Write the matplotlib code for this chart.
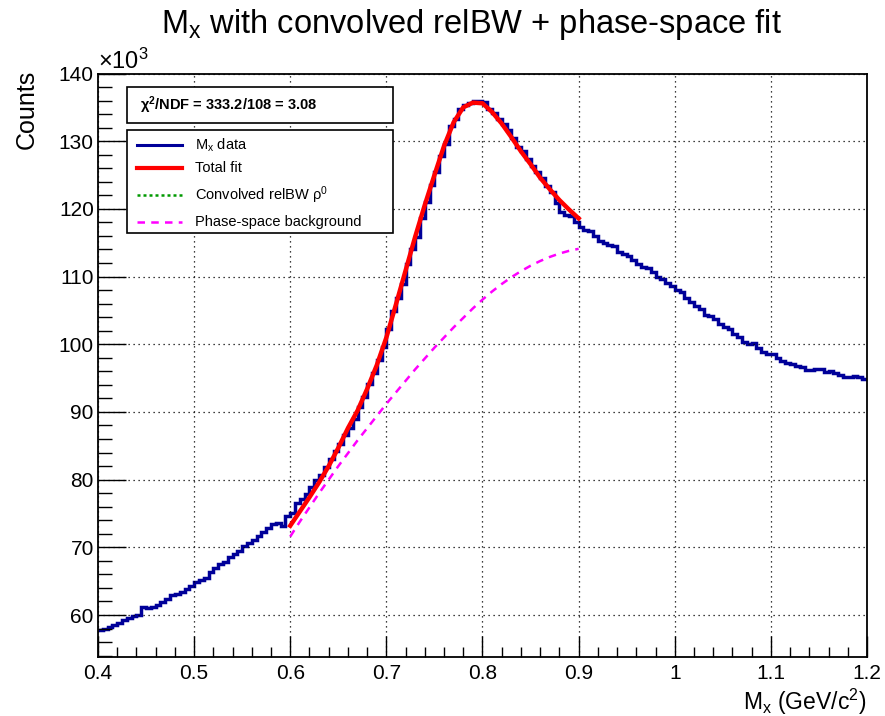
import numpy as np
import matplotlib
matplotlib.use("Agg")
import matplotlib.pyplot as plt
from matplotlib.patches import Rectangle
from matplotlib.lines import Line2D
from matplotlib.ticker import MultipleLocator

plt.rcParams['font.family'] = ['Liberation Sans', 'DejaVu Sans']
plt.rcParams['mathtext.fontset'] = 'custom'
plt.rcParams['mathtext.rm'] = 'Liberation Sans'
plt.rcParams['mathtext.it'] = 'Liberation Sans:italic'
plt.rcParams['mathtext.bf'] = 'Liberation Sans:bold'

# histogram: 160 bins of 0.005 GeV from 0.4 to 1.2, counts in thousands
bin_lo, bin_hi, nbins = 0.4, 1.2, 160
counts = [
    57.8, 58.0, 58.3, 58.5, 58.8, 59.3, 59.6, 59.8, 60.0, 61.2,
    61.0, 61.2, 61.5, 61.9, 62.4, 63.0, 63.1, 63.4, 63.9, 64.3,
    64.9, 65.2, 65.4, 66.4, 66.9, 67.5, 67.9, 68.6, 69.0, 69.4,
    70.2, 70.7, 71.1, 71.7, 72.3, 72.9, 73.5, 73.6, 73.1, 74.6,
    75.1, 76.6, 77.2, 77.9, 78.9, 79.9, 80.7, 81.8, 83.0, 84.2,
    85.2, 86.6, 87.6, 89.0, 90.8, 92.2, 94.2, 95.8, 97.7, 99.6,
    102.2, 104.9, 106.8, 108.9, 111.8, 114.0, 115.8, 118.6, 121.0, 123.6,
    125.5, 127.8, 129.6, 132.2, 133.3, 134.7, 135.3, 135.6, 135.9, 135.9,
    135.8, 134.7, 134.1, 133.3, 132.6, 131.7, 130.4, 129.2, 128.6, 127.4,
    126.3, 125.4, 124.6, 123.4, 122.5, 120.8, 119.6, 119.1, 118.9, 118.0,
    117.3, 116.9, 116.8, 116.0, 115.3, 115.0, 114.7, 114.5, 113.7, 113.3,
    113.0, 112.4, 111.8, 111.4, 111.2, 110.7, 110.0, 109.6, 109.0, 108.6,
    108.0, 107.7, 106.8, 106.3, 105.6, 105.2, 104.3, 104.2, 103.7, 103.0,
    102.6, 102.3, 101.5, 101.0, 100.3, 100.0, 100.2, 99.4, 98.9, 98.6,
    98.5, 97.9, 97.6, 97.3, 97.1, 96.8, 96.6, 96.2, 96.2, 96.4,
    96.3, 95.9, 96.0, 95.8, 95.5, 95.2, 95.2, 95.3, 95.1, 94.8,
]

# fit curves sampled every 0.01 GeV on the fit range
fit_x = [0.60, 0.61, 0.62, 0.63, 0.64, 0.65, 0.66, 0.67, 0.68, 0.69,
         0.70, 0.71, 0.72, 0.73, 0.74, 0.75, 0.76, 0.77, 0.78, 0.79,
         0.80, 0.81, 0.82, 0.83, 0.84, 0.85, 0.86, 0.87, 0.88, 0.89, 0.90]
total_fit = [73.2, 75.3, 77.4, 79.6, 82.0, 84.7, 87.6, 90.2, 93.4, 96.9,
             101.0, 105.9, 110.9, 115.9, 120.6, 125.0, 129.3, 132.8, 135.0, 135.7,
             135.6, 134.3, 132.6, 130.6, 128.5, 126.6, 124.6, 122.9, 121.3, 119.9, 118.6]
phase_space = [71.6, 73.8, 75.9, 78.0, 80.0, 82.0, 83.9, 85.8, 87.6, 89.4,
               91.2, 92.9, 94.6, 96.3, 97.9, 99.5, 101.0, 102.5, 103.9, 105.3,
               106.6, 107.8, 108.9, 109.9, 110.8, 111.6, 112.3, 112.9, 113.4, 113.8, 114.1]

chi2_text = r"$\mathbf{\chi^{2}}$/NDF = 333.2/108 = 3.08"
legend_labels = [r"M$_{\mathregular{x}}$ data", "Total fit",
                 r"Convolved relBW $\mathregular{\rho^{0}}$", "Phase-space background"]

W, H = 885, 716
fig = plt.figure(figsize=(W / 100, H / 100), dpi=100)
L, R, T, B = 98, 867, 73.5, 657
ax = fig.add_axes([L / W, 1 - B / H, (R - L) / W, (B - T) / H])

edges = np.linspace(bin_lo, bin_hi, nbins + 1)
ax.stairs(counts, edges, color='#000099', lw=2.5, baseline=None)
ax.plot(fit_x, phase_space, color='#ff00ff', lw=1.8, ls=(0, (3, 2.5)))
ax.plot(fit_x, total_fit, color='#ff0000', lw=3.2)

ax.set_xlim(0.4, 1.2)
ax.set_ylim(53.8, 140)
ax.xaxis.set_minor_locator(MultipleLocator(0.02))
ax.yaxis.set_minor_locator(MultipleLocator(2))
ax.set_xticks(np.arange(0.4, 1.21, 0.1))
ax.set_xticklabels(['0.4', '0.5', '0.6', '0.7', '0.8', '0.9', '1', '1.1', '1.2'])
ax.set_yticks(np.arange(60, 141, 10))
ax.set_yticklabels([str(v) for v in range(60, 141, 10)])
ax.tick_params(axis='both', which='both', direction='in', top=False, right=False,
               labelsize=15, width=1)
ax.tick_params(axis='x', which='major', length=15, pad=5)
ax.tick_params(axis='x', which='minor', length=7.5)
ax.tick_params(axis='y', which='major', length=20, pad=3)
ax.tick_params(axis='y', which='minor', length=10)
ax.grid(True, which='major', color='black', ls=(0, (1, 3)), lw=0.9)
for s in ax.spines.values():
    s.set_linewidth(1.3)

ax.text(0.0, 1.0, r"$\times\mathregular{10^{3}}$", transform=ax.transAxes,
        ha='left', va='bottom', fontsize=17)

fig.text(471 / W, 1 - 24 / H, r"M$_{\mathregular{x}}$ with convolved relBW + phase-space fit",
         ha='center', va='center', fontsize=23.5)
fig.text(27 / W, 1 - 70 / H, "Counts", rotation=90, ha='center', va='top', fontsize=18)
fig.text(866 / W, 1 - 702 / H, r"M$_{\mathregular{x}}$ (GeV/c$^{\mathregular{2}}$)",
         ha='right', va='center', fontsize=16.5)


def axf(px, py):
    return (px - L) / (R - L), (B - py) / (B - T)


# chi2 box
x0, y0 = axf(127, 123)
x1, y1 = axf(393, 87)
ax.add_patch(Rectangle((x0, y0), x1 - x0, y1 - y0, transform=ax.transAxes,
                       fill=True, fc='white', ec='black', lw=1.2, zorder=5))
tx, ty = axf(140, 105)
ax.text(tx, ty, chi2_text, transform=ax.transAxes, ha='left', va='center',
        fontsize=10.5, fontweight='bold', zorder=6)

# legend box
x0, y0 = axf(127, 233)
x1, y1 = axf(393, 130)
ax.add_patch(Rectangle((x0, y0), x1 - x0, y1 - y0, transform=ax.transAxes,
                       fill=True, fc='white', ec='black', lw=1.2, zorder=5))
styles = [dict(color='#000099', lw=2.2, ls='-'),
          dict(color='#ff0000', lw=3.0, ls='-'),
          dict(color='#009900', lw=1.8, ls=(0, (1.2, 1.2))),
          dict(color='#ff00ff', lw=1.8, ls=(0, (3, 2.5)))]
rows = [145, 168, 195, 222]
for lab, st, py in zip(legend_labels, styles, rows):
    lx0, ly = axf(137, py)
    lx1, _ = axf(182, py)
    ax.add_line(Line2D([lx0, lx1], [ly, ly], transform=ax.transAxes, zorder=6, **st))
    tx, _ = axf(195, py)
    ax.text(tx, ly, lab, transform=ax.transAxes, ha='left', va='center',
            fontsize=10.5, zorder=6)

fig.savefig("out.png", dpi=100)
